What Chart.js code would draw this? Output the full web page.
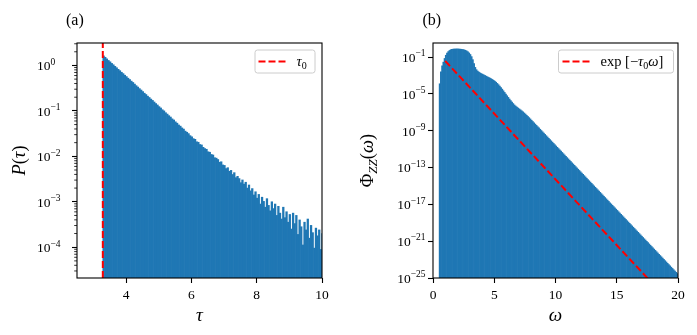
<!DOCTYPE html>
<html><head><meta charset="utf-8">
<script src="https://cdn.jsdelivr.net/npm/chart.js@4.4.1/dist/chart.umd.min.js"></script>
<style>
html,body{margin:0;padding:0;background:#fff;}
#wrap{position:relative;width:697px;height:335px;overflow:hidden;background:#fff;}
.cv{position:absolute;top:0;}
</style></head><body>
<div id="wrap">
<div class="cv" style="left:0;width:348px;height:335px"><canvas id="ca" width="348" height="335"></canvas></div>
<div class="cv" style="left:348px;width:349px;height:335px"><canvas id="cb" width="349" height="335"></canvas></div>
</div>
<script>
// ---------------- DATA ----------------
const tau0 = 3.29;
// panel (a): histogram of P(tau), bins of width 0.05 starting at tau0
const tauBinStart = 3.29;
const tauBinWidth = 0.05;
const pTau = [
1.622,1.514,1.396,1.288,1.202,1.109,1.035,0.955,0.891,0.822,
0.767,0.708,0.661,0.610,0.569,0.525,0.490,0.452,0.422,0.389,
0.359,0.335,0.309,0.288,0.266,0.245,0.229,0.211,0.197,0.182,
0.170,0.157,0.145,0.135,0.124,0.116,0.106,0.100,0.0912,0.0851,
0.0785,0.0733,0.0668,0.0631,0.0575,0.0537,0.0490,0.0462,0.0422,0.0398,
0.0359,0.0339,0.0316,0.0285,0.0269,0.0245,0.0237,0.0209,0.0204,0.0182,
0.0178,0.0158,0.0148,0.0143,0.0126,0.0123,0.0110,0.0107,0.00933,0.00912,
0.00851,0.00741,0.00759,0.00646,0.00631,0.00537,0.00562,0.00468,0.00490,0.00398,
0.00437,0.00339,0.00363,0.00324,0.00263,0.00302,0.00245,0.00269,0.00200,0.00234,
0.00174,0.00195,0.00141,0.00166,0.00120,0.00145,0.000891,0.00126,0.00102,0.000759,
0.00117,0.000832,0.000631,0.00100,0.000708,0.000891,0.000501,0.000794,0.000562,0.000417,
0.000759,0.000447,0.000603,0.000355,0.000525,0.000251,0.000562,0.000331,0.000501,0.000191,
0.000398,0.000282,0.000112,0.000355,0.000240,0.000417,0.000158,0.000302,0.000209,0.0000955,
0.000263,0.000178,0.000240,0.0000891,0.000200
];
const tauTicks = [4, 6, 8, 10];
const pTicks = [1e-4, 1e-3, 1e-2, 1e-1, 1e0];
const tau0LineX = [tau0, tau0];
const tau0LineY = [1e-6, 10];

// panel (b): Phi_ZZ(omega), bins of width 0.1 starting at 0.5
const omegaBinStart = 0.5;
const omegaBinWidth = 0.1;
const phiZZ = [
1.26e-4,2.51e-3,1.12e-2,2.82e-2,7.08e-2,1.58e-1,2.75e-1,3.98e-1,5.25e-1,6.31e-1,
6.92e-1,7.33e-1,7.59e-1,7.67e-1,7.67e-1,7.59e-1,7.50e-1,7.24e-1,7.00e-1,6.61e-1,
6.17e-1,5.50e-1,4.68e-1,3.80e-1,2.82e-1,1.91e-1,1.12e-1,5.25e-2,1.91e-2,7.59e-3,
4.27e-3,3.02e-3,2.34e-3,1.91e-3,1.62e-3,1.38e-3,1.17e-3,1.00e-3,8.51e-4,7.24e-4,
6.17e-4,5.25e-4,4.47e-4,3.72e-4,3.02e-4,2.40e-4,1.86e-4,1.38e-4,1.00e-4,7.08e-5,
4.90e-5,3.31e-5,2.19e-5,1.45e-5,9.55e-6,6.31e-6,4.17e-6,2.75e-6,1.86e-6,1.26e-6,
8.91e-7,6.31e-7,4.79e-7,3.72e-7,2.95e-7,2.34e-7,1.86e-7,1.45e-7,1.12e-7,8.51e-8,
6.46e-8,4.79e-8,3.55e-8,2.63e-8,1.91e-8,1.38e-8,1.00e-8,7.24e-9,5.25e-9,3.80e-9,
2.75e-9,2.00e-9,1.45e-9,1.047e-9,7.59e-10,5.50e-10,3.98e-10,2.88e-10,2.09e-10,1.51e-10,
1.096e-10,7.94e-11,5.75e-11,4.17e-11,3.02e-11,2.19e-11,1.58e-11,1.148e-11,8.32e-12,6.03e-12,
4.37e-12,3.16e-12,2.29e-12,1.66e-12,1.20e-12,8.71e-13,6.31e-13,4.57e-13,3.31e-13,2.40e-13,
1.74e-13,1.26e-13,9.12e-14,6.61e-14,4.79e-14,3.47e-14,2.51e-14,1.82e-14,1.32e-14,9.55e-15,
6.92e-15,5.01e-15,3.63e-15,2.63e-15,1.91e-15,1.38e-15,1.00e-15,7.24e-16,5.25e-16,3.80e-16,
2.75e-16,2.00e-16,1.45e-16,1.047e-16,7.59e-17,5.50e-17,3.98e-17,2.88e-17,2.09e-17,1.51e-17,
1.096e-17,7.94e-18,5.75e-18,4.17e-18,3.02e-18,2.19e-18,1.58e-18,1.148e-18,8.32e-19,6.03e-19,
4.37e-19,3.16e-19,2.29e-19,1.66e-19,1.20e-19,8.71e-20,6.31e-20,4.57e-20,3.31e-20,2.40e-20,
1.74e-20,1.26e-20,9.12e-21,6.61e-21,4.79e-21,3.47e-21,2.51e-21,1.82e-21,1.32e-21,9.55e-22,
6.92e-22,5.01e-22,3.63e-22,2.63e-22,1.91e-22,1.38e-22,1.00e-22,7.24e-23,5.25e-23,3.80e-23,
2.75e-23,2.00e-23,1.45e-23,1.047e-23,7.59e-24,5.50e-24,3.98e-24,2.88e-24,2.09e-24,1.51e-24,
1.096e-24,7.94e-25,5.75e-25,4.17e-25,3.02e-25
];
const omegaTicks = [0, 5, 10, 15, 20];
const phiTicks = [1e-25, 1e-21, 1e-17, 1e-13, 1e-9, 1e-5, 1e-1];
const expLineX = [1, 20];
const expLineY = [3.73e-2, 2.65e-29];

// ---------------- STYLE ----------------
const SERIF = '"Liberation Serif","DejaVu Serif",serif';
const BLUE = '#1f77b4';
const RED = '#ff0000';
const TICK_FS = 13.5;

function font(size, italic){ return (italic ? 'italic ' : '') + size + 'px ' + SERIF; }

function richWidth(ctx, parts){
  let w = 0;
  for (const p of parts){ ctx.font = font(p.s, p.i); w += ctx.measureText(p.t).width + (p.k || 0); }
  return w;
}
function drawRich(ctx, parts, x, y, align){
  const w = richWidth(ctx, parts);
  let cx = align === 'center' ? x - w/2 : align === 'right' ? x - w : x;
  ctx.textBaseline = 'alphabetic';
  ctx.textAlign = 'left';
  for (const p of parts){
    ctx.font = font(p.s, p.i);
    ctx.fillText(p.t, cx, y + (p.dy || 0));
    cx += ctx.measureText(p.t).width + (p.k || 0);
  }
}
function expLabel(v){
  const e = Math.round(Math.log10(v));
  return [{t:'10', s:TICK_FS}, {t:(e < 0 ? '\u2212' + (-e) : String(e)), s:9.5, dy:-5.5, k:0.5}];
}

function decor(o){
  return {
    id: 'decor',
    afterDraw(chart){
      const ctx = chart.ctx, ca = chart.chartArea, ys = chart.scales.y;
      ctx.save();
      ctx.fillStyle = '#000';
      ctx.strokeStyle = '#000';
      // minor log ticks
      if (o.minor){
        ctx.lineWidth = 0.8;
        const lo = Math.floor(Math.log10(ys.min)), hi = Math.ceil(Math.log10(ys.max));
        for (let e = lo; e <= hi; e++){
          for (let m = 2; m <= 9; m++){
            const v = m * Math.pow(10, e);
            if (v < ys.min || v > ys.max) continue;
            const py = ys.getPixelForValue(v);
            ctx.beginPath(); ctx.moveTo(ca.left - 2.8, py); ctx.lineTo(ca.left, py); ctx.stroke();
          }
        }
      }
      // frame
      ctx.lineWidth = 1.1;
      ctx.strokeRect(ca.left, ca.top, ca.right - ca.left, ca.bottom - ca.top);
      // y tick labels
      for (const t of ys.ticks){
        const py = ys.getPixelForValue(t.value);
        if (o.yLabelLeft !== undefined) drawRich(ctx, expLabel(t.value), o.yLabelLeft, py + 4.8, 'left');
        else drawRich(ctx, expLabel(t.value), ca.left - o.yLabelGap, py + 4.8, 'right');
      }
      // axis titles
      drawRich(ctx, o.xTitle, (ca.left + ca.right)/2, 321, 'center');
      ctx.save();
      ctx.translate(o.yTitleX, (ca.top + ca.bottom)/2);
      ctx.rotate(-Math.PI/2);
      drawRich(ctx, o.yTitle, 0, 0, 'center');
      ctx.restore();
      // panel letter
      drawRich(ctx, [{t:o.letter, s:16}], o.letterX, 25, 'left');
      // legend
      const L = o.legend;
      ctx.beginPath();
      if (ctx.roundRect) ctx.roundRect(L.x, L.y, L.w, L.h, 2.5); else ctx.rect(L.x, L.y, L.w, L.h);
      ctx.fillStyle = 'rgba(255,255,255,0.8)';
      ctx.fill();
      ctx.strokeStyle = '#cccccc';
      ctx.lineWidth = 1;
      ctx.stroke();
      ctx.strokeStyle = RED;
      ctx.lineWidth = 2;
      ctx.setLineDash([7, 3]);
      ctx.beginPath(); ctx.moveTo(L.lx, L.ly); ctx.lineTo(L.lx + 27, L.ly); ctx.stroke();
      ctx.setLineDash([]);
      ctx.fillStyle = '#000';
      drawRich(ctx, L.text, L.tx, L.ty, 'left');
      ctx.restore();
    }
  };
}

function fixY(w){ return function(s){ s.width = w; s.paddingTop = 0; s.paddingBottom = 0; }; }
function fixX(h){ return function(s){ s.height = h; s.paddingLeft = 0; s.paddingRight = 0; }; }
function setTicks(arr){ return function(s){ s.ticks = arr.map(v => ({value: v})); }; }

function xScale(min, max, ticksArr){
  return {
    type: 'linear', min: min, max: max, offset: false,
    afterBuildTicks: setTicks(ticksArr),
    afterFit: fixX(57),
    grid: {offset: false, drawOnChartArea: false, drawTicks: true, tickLength: 5, tickWidth: 1.1, tickColor: '#000'},
    border: {display: false},
    ticks: {color: '#000', font: {family: SERIF, size: TICK_FS}, padding: 4, maxRotation: 0, autoSkip: false,
            callback: v => String(v)}
  };
}
function yScale(min, max, ticksArr, width){
  return {
    type: 'logarithmic', min: min, max: max,
    afterBuildTicks: setTicks(ticksArr),
    afterFit: fixY(width),
    grid: {offset: false, drawOnChartArea: false, drawTicks: true, tickLength: 5, tickWidth: 1.1, tickColor: '#000'},
    border: {display: false},
    ticks: {display: false}
  };
}

// panel (a)
const tauCenters = pTau.map((_, i) => tauBinStart + tauBinWidth * (i + 0.5));
new Chart(document.getElementById('ca'), {
  type: 'bar',
  data: {
    datasets: [
      {type: 'line', data: tau0LineX.map((x, i) => ({x: x, y: tau0LineY[i]})),
       borderColor: RED, borderWidth: 2, borderDash: [7, 3], pointRadius: 0, fill: false, order: 1},
      {type: 'bar', data: pTau.map((v, i) => ({x: tauCenters[i], y: v})),
       backgroundColor: BLUE, borderWidth: 0, barPercentage: 1, categoryPercentage: 1, order: 2}
    ]
  },
  options: {
    responsive: false, animation: false, devicePixelRatio: 1,
    layout: {padding: {left: 0, right: 26, top: 43, bottom: 0}},
    plugins: {legend: {display: false}, tooltip: {enabled: false}},
    scales: {x: xScale(2.5, 10, tauTicks), y: yScale(2.1e-5, 3.12, pTicks, 77)}
  },
  plugins: [decor({
    minor: true, yLabelLeft: 37,
    xTitle: [{t:'\u03c4', s:19, i:true}],
    yTitle: [{t:'P', s:18.5, i:true},{t:'(', s:18.5},{t:'\u03c4', s:18.5, i:true},{t:')', s:18.5}],
    yTitleX: 25,
    letter: '(a)', letterX: 66,
    legend: {x:255, y:50, w:60, h:23, lx:258.5, ly:61.5, tx:296.5, ty:66,
             text: [{t:'\u03c4', s:14.5, i:true},{t:'0', s:10, dy:2.5}]}
  })]
});

// panel (b)
const omegaCenters = phiZZ.map((_, i) => omegaBinStart + omegaBinWidth * (i + 0.5));
new Chart(document.getElementById('cb'), {
  type: 'bar',
  data: {
    datasets: [
      {type: 'line', data: expLineX.map((x, i) => ({x: x, y: expLineY[i]})),
       borderColor: RED, borderWidth: 2, borderDash: [7, 3], pointRadius: 0, fill: false, order: 1},
      {type: 'bar', data: phiZZ.map((v, i) => ({x: omegaCenters[i], y: v})),
       backgroundColor: BLUE, borderWidth: 0, barPercentage: 1, categoryPercentage: 1, order: 2}
    ]
  },
  options: {
    responsive: false, animation: false, devicePixelRatio: 1,
    layout: {padding: {left: 0, right: 19, top: 43, bottom: 0}},
    plugins: {legend: {display: false}, tooltip: {enabled: false}},
    scales: {x: xScale(0, 20, omegaTicks), y: yScale(1e-25, 3.39, phiTicks, 85)}
  },
  plugins: [decor({
    minor: false, yLabelGap: 7,
    xTitle: [{t:'\u03c9', s:19, i:true}],
    yTitle: [{t:'\u03a6', s:18.5},{t:'ZZ', s:13, i:true, dy:3.5},{t:'(', s:18.5},{t:'\u03c9', s:18.5, i:true},{t:')', s:18.5}],
    yTitleX: 25,
    letter: '(b)', letterX: 74.5,
    legend: {x:210.5, y:50, w:115, h:23, lx:214.5, ly:61.5, tx:252.5, ty:66,
             text: [{t:'exp [\u2212', s:14.5},{t:'\u03c4', s:14.5, i:true},{t:'0', s:10, dy:2.5},{t:'\u03c9', s:14.5, i:true},{t:']', s:14.5}]}
  })]
});
</script>
</body></html>
